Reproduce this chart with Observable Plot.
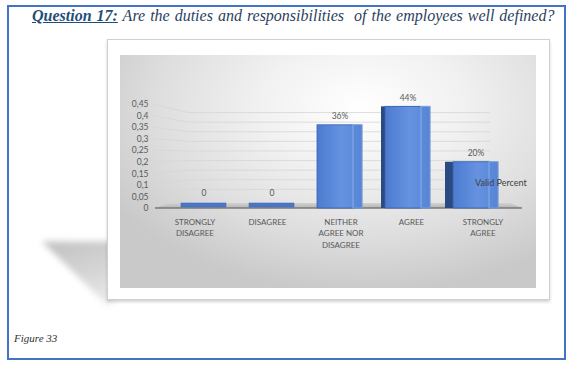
<!DOCTYPE html>
<html><head><meta charset="utf-8">
<script src="https://cdn.jsdelivr.net/npm/d3@7"></script>
<script src="https://cdn.jsdelivr.net/npm/@observablehq/plot@0.6"></script>
<style>
html,body{margin:0;padding:0;background:#fff;}
body{width:572px;height:371px;position:relative;overflow:hidden;}
#border{position:absolute;left:7px;top:5px;width:555px;height:351px;border:2px solid #4472c4;}
#title{position:absolute;left:32px;top:7px;font-family:"Liberation Serif",serif;font-style:italic;font-size:16px;color:#2b3f5e;white-space:nowrap;word-spacing:1px;}
#title b{color:#1f4e79;text-decoration:underline;}
#shadowWrap{position:absolute;left:38px;top:236px;width:74px;height:68px;filter:blur(3px);}
#shadow{width:100%;height:100%;clip-path:polygon(5% 8%,100% 8%,100% 100%,92% 100%);background:linear-gradient(160deg,#bdbdbd,#d6d6d6 60%,#ececec);}
#frame{position:absolute;left:107px;top:39px;width:441px;height:259px;background:#fff;border:1px solid #d0d0d0;box-shadow:0 2px 3px rgba(0,0,0,0.18);}
#panel{position:absolute;left:120px;top:55px;width:416px;height:233px;background:radial-gradient(ellipse 70% 80% at 58% 22%,#ffffff 0%,#f1f1f1 35%,#dedede 70%,#c9c9c9 100%);}
#chart{position:absolute;left:120px;top:55px;}
#valid{position:absolute;left:475px;top:177px;font-family:Lato,sans-serif;font-size:9px;color:#404040;white-space:nowrap;}
#fig{position:absolute;left:14px;top:332px;font-family:"Liberation Serif",serif;font-style:italic;font-size:11px;color:#333;}
</style>
</head><body>
<div id="border"></div>
<div id="title"><b>Question 17:</b> Are the duties and responsibilities&nbsp; of the employees well defined?</div>
<div id="shadowWrap"><div id="shadow"></div></div>
<div id="frame"></div>
<div id="panel"></div>
<div id="chart"></div>
<div id="valid"></div>
<div id="fig">Figure 33</div>
<script>
const categories = ["STRONGLY\nDISAGREE", "DISAGREE", "NEITHER\nAGREE NOR\nDISAGREE", "AGREE", "STRONGLY\nAGREE"];
const values = [0, 0, 0.36, 0.44, 0.20];
const valueLabels = ["0", "0", "36%", "44%", "20%"];
const yTicks = [0, 0.05, 0.1, 0.15, 0.2, 0.25, 0.3, 0.35, 0.4, 0.45];
const seriesName = "Valid Percent";

const data = categories.map((c, i) => ({category: c, value: values[i], label: valueLabels[i]}));
document.getElementById("valid").textContent = seriesName;

const textColor = "#595959";
const fmt = d => String(d).replace(".", ",");

function perspective(...args) {
  const scales = args.find(a => a && typeof a.y === "function");
  const y = scales.y;
  const y0 = y(0), k = 192 / 231, lift = 9;
  const g = d3.create("svg:g");
  const defs = g.append("defs");
  const lg = defs.append("linearGradient").attr("id", "barGrad").attr("x1", 0).attr("x2", 1).attr("y1", 0).attr("y2", 0);
  lg.append("stop").attr("offset", "0%").attr("stop-color", "#4c7bcf");
  lg.append("stop").attr("offset", "55%").attr("stop-color", "#6692e0");
  lg.append("stop").attr("offset", "100%").attr("stop-color", "#5685d6");
  const fg = defs.append("linearGradient").attr("id", "floorGrad").attr("x1", 0).attr("x2", 0).attr("y1", 0).attr("y2", 1);
  fg.append("stop").attr("offset", "0%").attr("stop-color", "#d2d2d2");
  fg.append("stop").attr("offset", "100%").attr("stop-color", "#b4b4b4");
  for (const t of yTicks) {
    if (t === 0) continue;
    const yf = y(t);
    const yb = y0 - lift + (yf - y0) * k;
    g.append("path").attr("d", `M33,${yf}L68,${yb}L370,${yb}`)
      .attr("fill", "none").attr("stroke", "#d6d6d6").attr("stroke-width", 0.8);
  }
  g.append("path").attr("d", `M50,${y0 - 5}L390,${y0 - 5}L402,${y0}L35,${y0}Z`).attr("fill", "url(#floorGrad)");
  g.append("line").attr("x1", 35).attr("x2", 402).attr("y1", y0).attr("y2", y0)
    .attr("stroke", "#7a7a7a").attr("stroke-width", 1.6);
  return g.node();
}

const labelShift = [-9, -4.5, 1, 3.5, 7];
const axisCommon = {label: null, tickSize: 0, tickPadding: 8, fontSize: 8, lineHeight: 1.45, color: textColor, fontFamily: "Lato"};

const plot = Plot.plot({
  width: 416,
  height: 233,
  marginTop: 49,
  marginBottom: 80,
  marginLeft: 32,
  marginRight: 20,
  style: {background: "transparent", fontFamily: "Lato, sans-serif", overflow: "visible"},
  x: {domain: categories, range: [47.75, 390.25], paddingInner: 0.34, paddingOuter: 0.17, label: null},
  y: {domain: [0, 0.45], label: null},
  marks: [
    perspective,
    Plot.axisY(yTicks, {label: null, tickSize: 0, tickPadding: 4, tickFormat: fmt, fontSize: 8.5, color: textColor, fontFamily: "Lato"}),
    ...categories.map((c, i) => Plot.axisX([c], {...axisCommon, dx: labelShift[i]})),
    Plot.barY(data, {filter: d => d.category === "AGREE", x: "category", y: "value", dx: -4, fill: "#2c4a82"}),
    Plot.barY(data, {filter: d => d.category === "STRONGLY\nAGREE", x: "category", y: "value", dx: -8, fill: "#2c4a82"}),
    Plot.barY(data, {filter: d => d.value > 0, x: "category", y: "value", fill: "url(#barGrad)", stroke: "#3862b0", strokeWidth: 0.8}),
    Plot.barY(data, {filter: d => d.value > 0, x: "category", y: "value", insetLeft: 36, fill: "none", stroke: "#9fbcec", strokeWidth: 0.7}),
    Plot.barY(data, {filter: d => d.value === 0, x: "category", y1: 0, y2: 0, insetTop: -4, dy: -1, fill: "#4a78c8", stroke: "#3862b0", strokeWidth: 0.5}),
    Plot.text(data, {filter: d => d.value > 0, x: "category", y: "value", text: "label", dy: -9, fontSize: 8.5, fill: textColor}),
    Plot.text(data, {filter: d => d.value === 0, x: "category", y: "value", text: "label", dy: -15, fontSize: 8.5, fill: textColor})
  ]
});
document.getElementById("chart").appendChild(plot);
</script>
</body></html>
